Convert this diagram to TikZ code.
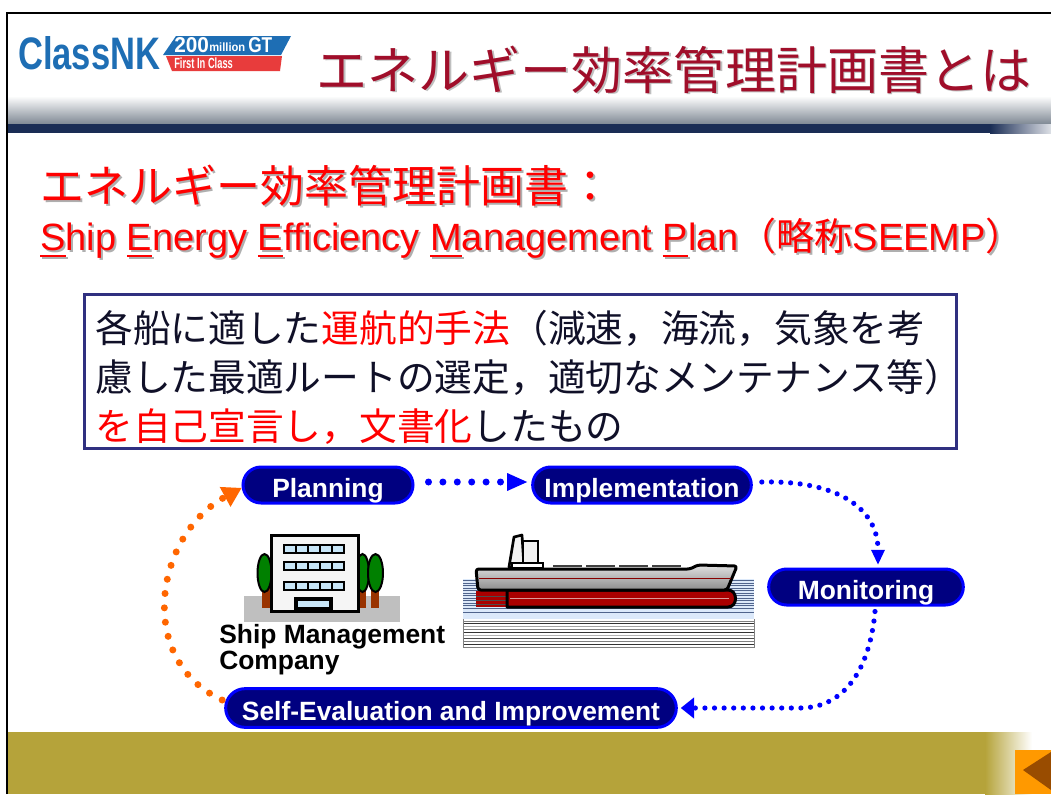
\documentclass[tikz,border=0pt]{standalone}
\usepackage{graphicx}
\usepackage{fontspec}
\setmainfont{Liberation Sans}
\newfontfamily\jpfont{Noto Sans CJK JP}
\usetikzlibrary{shapes.misc,arrows.meta,calc}

\definecolor{titlered}{RGB}{160,14,42}
\definecolor{brightred}{RGB}{255,0,0}
\definecolor{textdark}{RGB}{16,16,40}
\definecolor{boxframe}{RGB}{48,48,128}
\definecolor{pillfill}{RGB}{0,0,128}
\definecolor{pillrim}{RGB}{0,0,255}
\definecolor{cycleorange}{RGB}{255,102,0}
\definecolor{bandgold}{RGB}{181,163,58}
\definecolor{navyband}{RGB}{26,45,85}
\definecolor{headgray}{RGB}{122,132,144}
\definecolor{nkblue}{RGB}{30,110,180}
\definecolor{nkred}{RGB}{232,60,60}
\definecolor{shadowgray}{RGB}{175,175,175}
\definecolor{treegreen}{RGB}{0,128,0}
\definecolor{trunkbrown}{RGB}{153,51,0}
\definecolor{glassblue}{RGB}{200,230,248}
\definecolor{seablue}{RGB}{220,233,250}
\definecolor{sealine}{RGB}{80,100,140}
\definecolor{hullred}{RGB}{170,0,0}
\definecolor{btnorange}{RGB}{255,153,0}
\definecolor{btnbrown}{RGB}{153,76,0}

% text with a soft grey drop shadow
\newcommand\shadowed[1]{\rlap{\kern1.5pt\raisebox{-1.5pt}{\textcolor{shadowgray}{#1}}}#1}
% first letter underlined with a heavy rule
\newcommand\ulfirst[1]{\setbox0\hbox{#1}\rlap{\rule[-5pt]{\wd0}{1.6pt}}\box0}

\tikzset{
  pill/.style={rounded rectangle, fill=pillfill, draw=pillrim, line width=2.25pt,
    text=white, font=\bfseries\fontsize{19.8pt}{22pt}\selectfont,
    text height=18pt, text depth=0pt, minimum height=27pt, inner xsep=0pt, inner ysep=0pt},
  bigdots/.style={draw=#1, line width=5.25pt, line cap=round, dash pattern=on 0pt off 10.8pt},
  smalldots/.style={draw=pillrim, line width=3.9pt, line cap=round, dash pattern=on 0pt off 7.2pt},
  jptext/.style={font=\jpfont\fontsize{#1}{#1}\selectfont, inner sep=0pt},
}

\begin{document}
\begin{tikzpicture}[x=0.75pt,y=-0.75pt]
\useasboundingbox (0,0) rectangle (1051,794);
\fill[white] (0,0) rectangle (1051,794);

% header band
\shade[top color=white, bottom color=headgray] (8,96) rectangle (1051,125);
\fill[navyband] (8,124) rectangle (990,133);
\shade[left color=navyband, right color=white!85!navyband] (990,124) rectangle (1051,133);

% logo
\node[anchor=south west, inner sep=0pt, text=nkblue] (nk) at (18,70)
  {\resizebox{106.5pt}{24.75pt}{\bfseries ClassNK}};
\fill[nkblue] (163,55) -- (176,36) -- (291,36) -- (281,55) -- cycle;
\fill[nkred] (166,56) -- (282,56) -- (280,71) -- (172,71) -- cycle;
\node[anchor=south west, inner sep=0pt, text=white] (gt200) at (174,53)
  {\resizebox{26pt}{11.25pt}{\bfseries 200}};
\node[anchor=south west, inner sep=0pt, text=white] (gtmil) at (209,52)
  {\resizebox{27pt}{6.5pt}{\bfseries million}};
\node[anchor=south west, inner sep=0pt, text=white] (gtgt) at (248,53)
  {\resizebox{18pt}{11.25pt}{\bfseries GT}};
\node[anchor=south west, inner sep=0pt, text=white] (gtfirst) at (174,69)
  {\resizebox{44pt}{8pt}{\bfseries First In Class}};

% title
\node[jptext=38.3pt, anchor=base, text=titlered] (title) at (674,89)
  {\rlap{\kern1.2pt\raisebox{-1.2pt}{\textcolor{black!25}{エネルギー効率管理計画書とは}}}エネルギー効率管理計画書とは};

% heading lines
\node[jptext=33pt, anchor=base west, text=brightred] (head) at (40,202)
  {\shadowed{エネルギー効率管理計画書：}};
\node[anchor=base west, inner sep=0pt, text=brightred, font=\fontsize{28.5pt}{30pt}\selectfont] (fullname) at (40,250)
  {\shadowed{\ulfirst{S}hip \ulfirst{E}nergy \ulfirst{E}fficiency \ulfirst{M}anagement \ulfirst{P}lan{\jpfont （略称}SEEMP{\jpfont ）}}};

% framed description
\node[draw=boxframe, line width=2pt, anchor=north west, inner sep=0pt,
  minimum width=654pt, minimum height=115.5pt] (descbox) at (83,293) {};
\node[anchor=base west, align=left, inner sep=0pt, text=textdark,
  font=\jpfont\fontsize{28.3pt}{36.75pt}\selectfont] (desc) at (95,440)
  {各船に適した\textcolor{brightred}{運航的手法}（減速，海流，気象を考\\
   慮した最適ルートの選定，適切なメンテナンス等）\\
   \textcolor{brightred}{を自己宣言し，文書化}したもの};

% cycle stages
\node[pill, minimum width=127.5pt] (plan) at (328,485) {Planning};
\node[pill, minimum width=164pt] (impl) at (642,485) {Implementation};
\node[pill, minimum width=146pt] (mon) at (866,587) {Monitoring};
\node[pill, minimum width=338pt, minimum height=29pt] (self) at (451,708) {Self-Evaluation and Improvement};

% cycle connectors
\draw[bigdots=pillrim, -{Triangle[length=15pt,width=13.5pt,line width=0pt]}, shorten <=10.5pt, shorten >=3pt]
  ([yshift=2.25pt]plan.east) -- ([yshift=2.25pt]impl.west);
\draw[smalldots, -{Triangle[length=11pt,width=10.5pt,line width=0pt]}]
  ($(impl.east)+(9,-3)$) .. controls (840,480) and (878,510) .. ($(mon.north)+(12,-3)$);
\draw[smalldots, -{Triangle[length=10pt,width=16pt,line width=0pt]}]
  ($(mon.south)+(9,5)$) .. controls (870,668) and (845,708) .. (800,708) -- ($(self.east)+(3,0)$);
\draw[bigdots=cycleorange, -{Triangle[length=14pt,width=17pt,line width=0pt]}]
  ($(self.west)+(-2,-8)$) .. controls (135,660) and (155,535) .. ($(plan.west)+(0,3)$);

% office building with trees
\fill[gray!50] (244,596) rectangle (400,622);
\fill[trunkbrown] (262,588) rectangle (270,608);
\draw[fill=treegreen, line width=1.5pt] (264.5,573) ellipse [x radius=7, y radius=19];
\fill[trunkbrown] (358,588) rectangle (366,608);
\draw[fill=treegreen, line width=1.5pt] (362.5,573) ellipse [x radius=6.5, y radius=19];
\fill[trunkbrown] (371,588) rectangle (379,608);
\draw[fill=treegreen, line width=1.5pt] (375.5,573) ellipse [x radius=7.5, y radius=19];
\draw[fill=white!96!black, line width=2.25pt] (271,535) rectangle (358,611);
\foreach \wy in {545,562,582} {
  \draw[fill=glassblue, line width=1pt] (284,\wy) rectangle (344,\wy+8);
  \foreach \wx in {296,308,320,332} \draw[line width=1pt] (\wx,\wy) -- (\wx,\wy+8);
}
\fill (294,597) rectangle (333,611);
\fill[glassblue] (298,601) rectangle (329,607);

\node[anchor=north west, align=left, inner sep=0pt,
  font=\bfseries\fontsize{19.8pt}{19.5pt}\selectfont] (company) at (219,624)
  {Ship Management\\Company};

% ship on the water
\fill[seablue] (463,579) rectangle (754,619);
\foreach \yy in {580.5,583,585.5,588,590.5,593,595.5,598,600.5,603,605.5,608,612}
  \draw[sealine, line width=0.6pt] (463,\yy) -- (754,\yy);
\foreach \yy/\cc in {621/gray,623.5/black!80,626/gray!70,629/gray,632/black!80,635/gray!60,638/black!70,641/gray,644/black!80,647/gray}
  \draw[\cc, line width=0.7pt] (463,\yy) -- (754,\yy);
\draw[gray, line width=0.6pt] (463,619) -- (463,648) (754,619) -- (754,648);

\draw[fill=white!95!black, line width=2pt, line join=round] (509,567) -- (514,537) -- (522,535) -- (524,567) -- cycle;
\draw[fill=white!95!black, line width=2pt] (523,541) rectangle (538,567);
\draw[fill=white, line width=1.5pt] (512,563) rectangle (543,568);
\foreach \xa in {553,586,619,652}
  \draw[black!75, line width=1.2pt] (\xa,566) -- (\xa+29,566);

\fill[hullred] (476,591) rectangle (506,607);
\draw[black!70, line width=0.6pt] (476,596) -- (506,596) (476,600) -- (506,600) (476,604) -- (506,604);
\draw[fill=hullred, line width=2.25pt, line join=round]
  (507,590) -- (728,590) .. controls (738,590) and (738,607) .. (728,607) -- (507,607) -- cycle;
\draw[white!60!hullred, line width=0.6pt] (510,598) -- (729,598);
\shadedraw[top color=white!88!black, bottom color=black!45, line width=2.25pt, line join=round, rounded corners=2pt]
  (476,569) -- (690,569) -- (698,565) -- (737,566) -- (727,590) -- (478,590) -- cycle;
\draw[hullred!80!black, line width=0.6pt] (479,578) -- (731,578);

% footer band and page button
\fill[bandgold] (8,732) rectangle (985,794);
\shade[left color=bandgold, right color=white] (985,732) rectangle (1032,794);
\fill[btnorange] (1015,750) rectangle (1051,794);
\fill[btnbrown] (1023,770) -- (1051,752) -- (1051,790) -- cycle;

% slide frame
\draw[line width=2pt] (7,794) -- (7,13) -- (1051,13);
\end{tikzpicture}
\end{document}
